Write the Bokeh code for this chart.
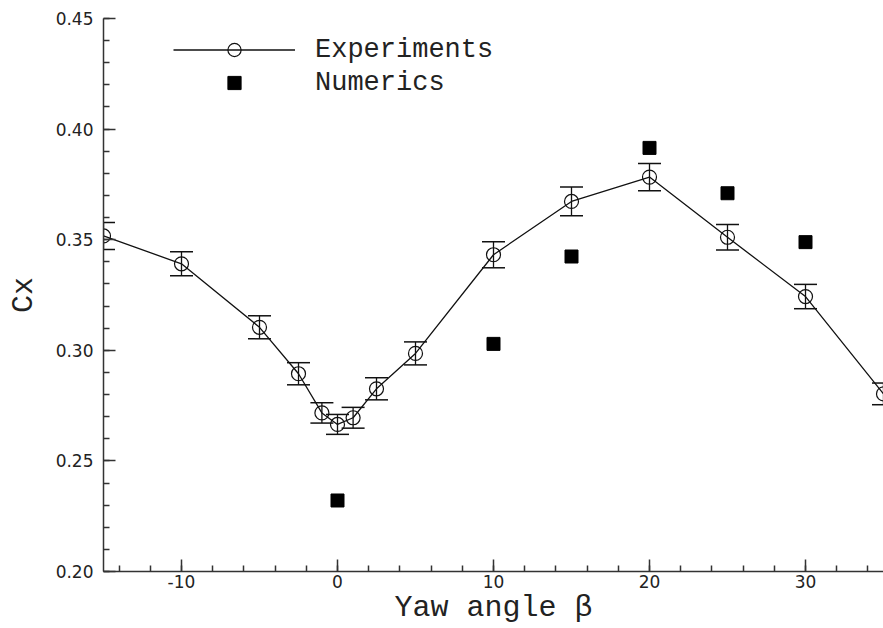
from bokeh.embed import file_html
from bokeh.models import (ColumnDataSource, Legend, LegendItem,
                          SingleIntervalTicker, PrintfTickFormatter)
from bokeh.plotting import figure
from bokeh.resources import INLINE

# Drag coefficient Cx versus yaw angle
exp_beta = [-15, -10, -5, -2.5, -1, 0, 1, 2.5, 5, 10, 15, 20, 25, 30, 35]
exp_cx = [0.3517, 0.3391, 0.3104, 0.2894, 0.2717, 0.2665, 0.2695, 0.2826,
          0.2986, 0.3432, 0.3673, 0.3783, 0.3511, 0.3243, 0.2803]
exp_err = [0.0061, 0.0054, 0.0052, 0.0050, 0.0046, 0.0045, 0.0047, 0.0050,
           0.0052, 0.0059, 0.0065, 0.0062, 0.0058, 0.0055, 0.0049]

num_beta = [0, 10, 15, 20, 25, 30]
num_cx = [0.2321, 0.3029, 0.3424, 0.3915, 0.3710, 0.3489]

x_ticks_major = 10
y_ticks_major = 0.05

exp_src = ColumnDataSource(dict(
    x=exp_beta, y=exp_cx,
    lo=[c - e for c, e in zip(exp_cx, exp_err)],
    hi=[c + e for c, e in zip(exp_cx, exp_err)],
))
num_src = ColumnDataSource(dict(x=num_beta, y=num_cx))

p = figure(width=883, height=628, x_range=(-15, 35), y_range=(0.20, 0.45),
           output_backend="svg", toolbar_location=None,
           min_border_left=103, min_border_right=0,
           min_border_top=18, min_border_bottom=57)
p.outline_line_color = None
p.xgrid.visible = False
p.ygrid.visible = False
p.background_fill_color = "white"
p.border_fill_color = "white"

ink = "#111111"

# error bars: stems and caps
p.segment(x0="x", y0="lo", x1="x", y1="hi", source=exp_src,
          line_color=ink, line_width=1.3)
p.scatter(x="x", y="lo", source=exp_src, marker="dash", size=23,
          line_color=ink, line_width=1.5)
p.scatter(x="x", y="hi", source=exp_src, marker="dash", size=23,
          line_color=ink, line_width=1.5)

exp_line = p.line(x="x", y="y", source=exp_src, line_color=ink,
                  line_width=1.3)
exp_pts = p.scatter(x="x", y="y", source=exp_src, marker="circle", size=14,
                    fill_color=None, line_color=ink, line_width=1.2)
num_pts = p.scatter(x="x", y="y", source=num_src, marker="square", size=13,
                    fill_color="black", line_color="black")

mono = "Liberation Mono"

legend = Legend(items=[
    LegendItem(label="Experiments", renderers=[exp_line, exp_pts]),
    LegendItem(label="Numerics", renderers=[num_pts]),
], location=(70, 472), glyph_width=122, glyph_height=33, label_height=33,
    spacing=-2, padding=0, margin=0, label_standoff=20,
    label_text_font=mono, label_text_font_size="27px",
    label_text_color="#222222", border_line_color=None,
    background_fill_alpha=0)
p.add_layout(legend, "center")

for ax, interval, fmt in ((p.xaxis[0], x_ticks_major, "%d"),
                          (p.yaxis[0], y_ticks_major, "%.2f")):
    ax.ticker = SingleIntervalTicker(interval=interval, num_minor_ticks=5)
    ax.formatter = PrintfTickFormatter(format=fmt)
    ax.axis_line_color = "#333333"
    ax.axis_line_width = 1.5
    ax.major_tick_line_color = "#333333"
    ax.minor_tick_line_color = "#333333"
    ax.major_tick_line_width = 1.5
    ax.minor_tick_line_width = 1.5
    ax.major_tick_in = 12
    ax.major_tick_out = 0
    ax.minor_tick_in = 6
    ax.minor_tick_out = 0
    ax.major_label_text_font = "DejaVu Sans"
    ax.major_label_text_font_size = "17px"
    ax.major_label_text_color = "#222222"
    ax.axis_label_text_font = mono
    ax.axis_label_text_font_style = "normal"
    ax.axis_label_text_color = "#222222"

p.xaxis[0].major_label_standoff = 3
p.xaxis[0].axis_label = "Yaw angle β"
p.xaxis[0].axis_label_text_font_size = "30px"
p.xaxis[0].axis_label_standoff = 0

p.yaxis[0].major_label_standoff = 10
p.yaxis[0].axis_label = "Cx"
p.yaxis[0].axis_label_text_font_size = "30px"
p.yaxis[0].axis_label_standoff = 12

open("out.html", "w").write(file_html(p, INLINE))
